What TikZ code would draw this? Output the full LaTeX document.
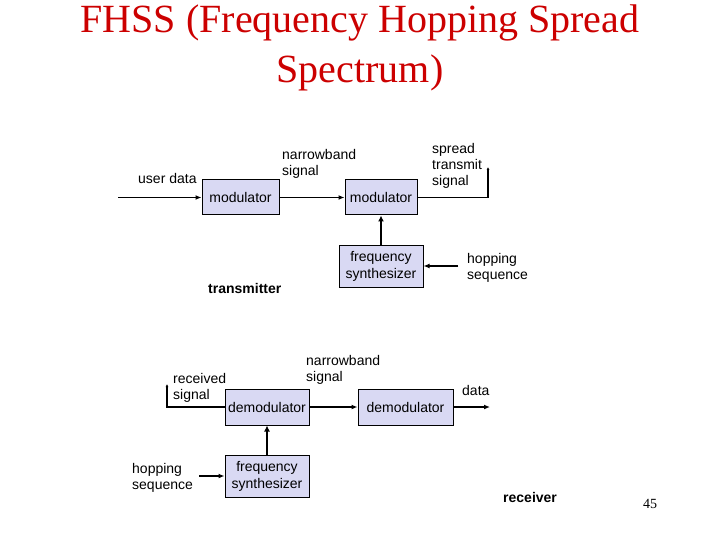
\documentclass[tikz,border=0pt]{standalone}
\usepackage{fontspec}
\setmainfont{Liberation Sans}
\newfontfamily\titlefont{Liberation Serif}
\usetikzlibrary{arrows.meta}
\definecolor{boxfill}{RGB}{217,217,243}
\definecolor{titlered}{RGB}{204,0,0}
\begin{document}
\begin{tikzpicture}[x=1pt,y=-1pt,
  blk/.style={draw=black, line width=1pt, fill=boxfill, inner sep=0pt, align=center, font=\fontsize{14}{17}\selectfont},
  lbl/.style={anchor=base west, inner sep=0pt, font=\fontsize{14}{16}\selectfont},
  blbl/.style={anchor=base west, inner sep=0pt, font=\bfseries\fontsize{14}{16}\selectfont},
  conn/.style={line width=1.3pt, -{Latex[length=6pt,width=5pt]}},
  tinyconn/.style={line width=1.3pt, -{Latex[length=3pt,width=3pt]}},
  thickconn/.style={line width=2.6pt, -{Latex[length=6pt,width=6pt]}},
  thickseg/.style={line width=2.6pt}
]
\useasboundingbox (0,0) rectangle (720,540);
% title
\node[anchor=base, inner sep=0pt, text=titlered, font=\titlefont\fontsize{40}{50}\selectfont] (t1) at (360,33) {FHSS (Frequency Hopping Spread};
\node[anchor=base, inner sep=0pt, text=titlered, font=\titlefont\fontsize{40}{50}\selectfont] (t2) at (360,83) {Spectrum)};
% transmitter
\node[blk, minimum width=77pt, minimum height=35pt] (mod1) at (240.5,197.5) {modulator};
\node[blk, minimum width=72pt, minimum height=35pt] (mod2) at (381,197.5) {modulator};
\node[blk, minimum width=84pt, minimum height=42pt] (synT) at (381,266) {frequency\\synthesizer};
\coordinate (inT) at (118,197.5);
\coordinate (outT) at (488,167);
\coordinate (hopT) at (458,266);
\coordinate (hopTm) at (442,266);
\draw[conn] (inT) -- (mod1.west);
\draw[conn] (mod1.east) -- (mod2.west);
\draw[tinyconn] (mod2.east) -| (outT);
\draw[thickconn] (synT.north) -- (mod2.south);
\draw[conn] (hopT) -- (synT.east);
\draw[thickseg] (hopT) -- (hopTm);
\node[lbl] (ud) at (138,184) {user data};
\node[lbl] (nb1a) at (282,160) {narrowband};
\node[lbl] (nb1b) at (282,176) {signal};
\node[lbl] (sp1) at (432,154) {spread};
\node[lbl] (sp2) at (432,170) {transmit};
\node[lbl] (sp3) at (432,186) {signal};
\node[lbl] (hs1a) at (467,263) {hopping};
\node[lbl] (hs1b) at (467,279) {sequence};
\node[blbl] (tx) at (208,293) {transmitter};
% receiver
\node[blk, minimum width=84pt, minimum height=36pt] (dem1) at (267,407) {demodulator};
\node[blk, minimum width=84pt, minimum height=42pt] (synR) at (267,476) {frequency\\synthesizer};
\node[blk, minimum width=95pt, minimum height=36pt] (dem2) at (405.5,407) {demodulator};
\coordinate (rxIn) at (167,384);
\coordinate (dataOut) at (490,407);
\coordinate (hopR) at (199,476);
\coordinate (hopRm) at (211,476);
\draw[tinyconn] (dem1.west) -| (rxIn);
\draw[conn] (dem1.east) -- (dem2.west);
\draw[conn] (dem2.east) -- (dataOut);
\draw[thickconn] (synR.north) -- (dem1.south);
\draw[conn] (hopR) -- (synR.west);
\draw[thickseg] (hopR) -- (hopRm);
\node[lbl] (rs1) at (173,383) {received};
\node[lbl] (rs2) at (173,399) {signal};
\node[lbl] (nb2a) at (306,365) {narrowband};
\node[lbl] (nb2b) at (306,381) {signal};
\node[lbl] (dt) at (462,395) {data};
\node[lbl] (hs2a) at (132,473) {hopping};
\node[lbl] (hs2b) at (132,489) {sequence};
\node[blbl] (rx) at (503,502) {receiver};
\node[anchor=base west, inner sep=0pt, font=\titlefont\fontsize{14}{16}\selectfont] (pg) at (643,508) {45};
\end{tikzpicture}
\end{document}
